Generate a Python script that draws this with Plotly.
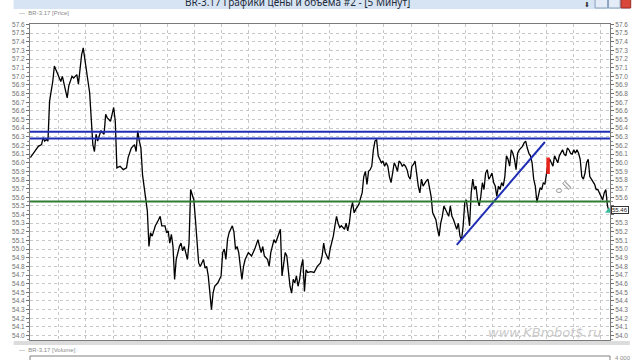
import plotly.graph_objects as go

# ---- data: 5-minute close prices (bar index, close) ----
bar = [0, 3, 5, 7, 8, 9, 10, 11, 12, 13, 14, 15, 17, 19, 20, 22, 23, 24, 26, 27, 29, 30, 31, 32, 33, 34, 35, 36, 37, 38, 39, 40, 41, 42, 44, 46, 47, 48, 50, 51, 52, 53, 54, 56, 58, 60, 61, 63, 65, 66, 67, 68, 69, 70, 71, 72, 73, 74,
       75, 76, 78, 80, 81, 82, 84, 85, 86, 87, 88, 89, 90, 91, 92, 93, 94, 95, 96, 97, 98, 99, 100, 101, 102, 103, 104, 105, 106, 107, 108, 109, 110, 111, 112, 113, 114, 115, 117, 118, 119, 120, 121, 122, 123, 124, 125, 126, 127, 128, 129, 130, 131, 132, 133, 134, 136, 138, 140, 142, 143, 144, 145, 146, 148, 149, 150, 151, 152, 153, 154, 155, 156, 157, 158, 159, 160, 161, 162, 163, 164, 165, 166, 167, 168, 169, 170, 171, 172, 173, 175, 177, 179, 181, 182,
       183, 184, 185, 186, 187, 188, 189, 190, 191, 192, 193, 194, 196, 197, 198, 199, 200, 201, 202, 203, 204, 205, 206, 207, 208, 209, 210, 211, 212, 213, 214, 215, 216, 217, 218, 219, 220, 221, 222, 223, 224, 225, 226, 227, 228, 229, 230, 231, 232, 233, 234, 235, 236, 237, 238, 239, 240, 241, 242, 243, 244, 245, 246, 247, 248, 249, 250, 251, 252, 253, 254, 255, 256, 257, 258, 259, 260, 261, 262, 263, 264, 265, 266, 267, 268, 269, 270, 271,
       272, 273, 274, 275, 276, 277, 278, 279, 280, 281, 282, 283, 284, 285, 286, 287, 288, 289, 290, 291, 292, 293, 294, 295, 296, 297, 298, 299, 300, 301, 302, 303, 304, 305, 306, 307, 308, 309, 310, 311, 312, 313, 314, 315, 316, 317, 318, 319, 320, 321, 322, 323, 324, 325, 326, 327, 328, 329, 330, 331, 332, 333, 334, 335, 336, 337, 338, 339, 340, 341, 342, 343, 344, 345, 346, 347, 348, 349, 350, 351, 352, 353, 354, 355, 356, 357, 358, 359, 360, 361]

close = [56.06, 56.13, 56.19, 56.21, 56.29, 56.25, 56.27, 56.25, 56.71, 56.83, 56.94, 57.12, 57.02, 56.94, 57.00, 56.85, 56.75, 56.89, 57.00, 56.98, 57.02, 56.91, 57.10, 57.25, 57.33, 57.18, 57.08, 56.94, 56.81, 56.44, 56.21, 56.13, 56.33, 56.25, 56.37, 56.33, 56.56, 56.52, 56.48, 56.56, 56.64, 56.48, 55.94, 55.96, 55.92, 55.94, 56.06, 56.17, 56.21, 56.13, 56.37, 56.25, 56.17, 55.86, 55.71, 55.59, 55.44, 55.03,
         55.19, 55.15, 55.27, 55.34, 55.38, 55.27, 55.27, 55.19, 55.21, 55.07, 55.17, 55.03, 54.65, 54.88, 54.96, 55.03, 55.07, 54.98, 55.03, 54.94, 54.88, 55.07, 55.69, 55.63, 55.57, 55.34, 55.03, 54.84, 54.80, 54.84, 54.88, 54.78, 54.80, 54.69, 54.46, 54.30, 54.49, 54.57, 54.61, 54.65, 54.69, 54.96, 55.00, 54.88, 55.11, 55.19, 55.23, 55.27, 55.20, 55.00, 55.03, 54.96, 54.80, 54.65, 54.80, 54.88, 54.96, 54.92, 55.00, 55.11, 55.03, 54.96, 55.03, 54.92, 54.88, 54.80, 54.96, 55.05, 55.11, 55.07, 55.13, 55.19, 55.23, 54.69, 54.84, 54.96, 54.92, 54.76, 54.57, 54.49, 54.65, 54.61, 54.69, 54.57, 54.65, 54.80, 54.88, 54.51, 54.76, 54.73, 54.74, 54.73, 54.80, 54.84, 54.92,
         55.07, 54.96, 54.92, 54.88, 55.00, 55.07, 55.15, 55.27, 55.38, 55.30, 55.25, 55.27, 55.23, 55.30, 55.21, 55.30, 55.46, 55.54, 55.42, 55.46, 55.50, 55.52, 55.59, 55.65, 55.84, 55.90, 55.75, 55.90, 55.92, 55.96, 56.15, 56.25, 56.27, 56.08, 56.04, 56.00, 56.02, 55.96, 56.00, 55.96, 55.84, 55.77, 55.88, 56.00, 55.96, 55.90, 56.02, 56.00, 55.96, 55.98, 55.96, 55.92, 55.84, 55.81, 55.96, 55.98, 56.02, 55.84, 55.73, 55.65, 55.81, 55.73, 55.77, 55.79, 55.81, 55.71, 55.61, 55.42, 55.38, 55.34, 55.23, 55.15, 55.30, 55.38, 55.50, 55.46, 55.42, 55.38, 55.50, 55.38, 55.34, 55.27, 55.23, 55.30, 55.15, 55.11, 55.27, 55.54,
         55.57, 55.42, 55.27, 55.65, 55.81, 55.69, 55.73, 55.57, 55.50, 55.61, 55.77, 55.69, 55.88, 55.92, 55.81, 55.84, 55.88, 55.77, 55.73, 55.61, 55.73, 55.69, 55.77, 55.73, 55.84, 56.08, 56.04, 55.96, 56.15, 56.11, 56.04, 55.92, 56.11, 56.15, 56.17, 56.19, 56.23, 56.25, 56.17, 56.11, 56.08, 56.00, 55.81, 55.73, 55.54, 55.65, 55.71, 55.69, 55.77, 55.75, 55.88, 56.00, 56.04, 56.00, 55.96, 56.08, 56.04, 56.00, 56.08, 56.11, 56.15, 56.10, 56.08, 56.17, 56.15, 56.11, 56.10, 56.15, 56.11, 56.15, 56.11, 56.04, 55.84, 55.81, 55.88, 56.00, 56.04, 55.84, 55.81, 55.77, 55.75, 55.69, 55.69, 55.65, 55.61, 55.57, 55.65, 55.69, 55.50, 55.44]

resistance_levels = [56.36, 56.28]
support_level = 55.55
trend_bars = [266, 321]
trend_prices = [55.05, 56.24]
sell_bar = [323, 323]
sell_prices = [56.06, 55.87]
last_price_label = "55.46"
price_ticks = [round(54.0 + 0.1 * i, 1) for i in range(37)]
tick_text = [f"{v:.1f}" for v in price_ticks]
# right-axis labels hidden behind the last-price box
right_tick_text = ["" if t in ("55.4", "55.5") else t for t in tick_text]

# ---- geometry helpers (pixels -> paper) ----
W, H = 640, 360
L, R, T, B = 17, 20.5, 24, 20
PW, PH = W - L - R, H - T - B
def px(x):
    return (x - L) / PW
def py(y):
    return (H - B - y) / PH

YR = [53.948, 57.606]
XR = [-0.2, 361.6]

fig = go.Figure()

fig.add_trace(go.Scatter(x=bar, y=close, mode="lines",
                         line=dict(color="#000000", width=1.3), hoverinfo="skip"))
fig.add_trace(go.Scatter(x=trend_bars, y=trend_prices, mode="lines",
                         line=dict(color="#1f2db5", width=2), hoverinfo="skip"))
fig.add_trace(go.Scatter(x=sell_bar, y=sell_prices, mode="lines",
                         line=dict(color="#e8231b", width=3.5), hoverinfo="skip"))
fig.add_trace(go.Scatter(x=[bar[-1]], y=[close[-1]], mode="markers",
                         marker=dict(symbol="triangle-up", size=7, color="#3dbb9c"),
                         hoverinfo="skip"))
# invisible trace to drive right axis
fig.add_trace(go.Scatter(x=[bar[0]], y=[close[0]], yaxis="y2", mode="markers",
                         marker=dict(opacity=0), hoverinfo="skip"))

shapes = []
for lvl in resistance_levels:
    shapes.append(dict(type="line", xref="paper", yref="y", x0=0, x1=1, y0=lvl, y1=lvl,
                       line=dict(color="#1f2db5", width=2)))
shapes.append(dict(type="line", xref="paper", yref="y", x0=0, x1=1, y0=support_level, y1=support_level,
                   line=dict(color="#2f7d32", width=2)))
# cursor-like gray icons
shapes.append(dict(type="circle", xref="x", yref="y", x0=328.2, x1=331.4, y0=55.655, y1=55.70,
                   line=dict(color="#9a9a9a", width=1)))
shapes.append(dict(type="line", xref="x", yref="y", x0=332.6, x1=336.6, y0=55.775, y1=55.70,
                   line=dict(color="#9a9a9a", width=4)))
shapes.append(dict(type="line", xref="x", yref="y", x0=332.8, x1=336.4, y0=55.772, y1=55.703,
                   line=dict(color="#f4f4f4", width=2)))
# window title bar
shapes.append(dict(type="rect", xref="paper", yref="paper", x0=px(0), x1=px(640), y0=py(9), y1=py(-2),
                   fillcolor="#d6e4f3", line=dict(width=0), layer="below"))
# window buttons
shapes.append(dict(type="rect", xref="paper", yref="paper", x0=px(604), x1=px(617), y0=py(8), y1=py(-2),
                   fillcolor="#e4edf7", line=dict(color="#8aa0bd", width=1)))
shapes.append(dict(type="rect", xref="paper", yref="paper", x0=px(618), x1=px(630), y0=py(8), y1=py(-2),
                   fillcolor="#e4edf7", line=dict(color="#8aa0bd", width=1)))
shapes.append(dict(type="rect", xref="paper", yref="paper", x0=px(631), x1=px(641), y0=py(8), y1=py(-2),
                   fillcolor="#d9473a", line=dict(color="#9b2b22", width=1)))
# panel separator and volume panel top
shapes.append(dict(type="rect", xref="paper", yref="paper", x0=px(0), x1=px(640), y0=py(345), y1=py(341),
                   fillcolor="#dcdcdc", line=dict(width=0)))
shapes.append(dict(type="line", xref="paper", yref="paper", x0=0, x1=1, y0=py(356), y1=py(356),
                   line=dict(color="#808080", width=1)))
shapes.append(dict(type="line", xref="paper", yref="paper", x0=0, x1=0, y0=py(356), y1=py(362),
                   line=dict(color="#808080", width=1)))
shapes.append(dict(type="line", xref="paper", yref="paper", x0=1, x1=1, y0=py(356), y1=py(362),
                   line=dict(color="#808080", width=1)))

annotations = [
    dict(xref="paper", yref="paper", x=px(295), y=py(1.5), text="BR-3.17 Графики цены и объема #2 - [5 Минут]",
         showarrow=False, font=dict(family="Noto Sans", size=10, color="#1e2a3a"), xanchor="center", yanchor="middle"),
    dict(xref="paper", yref="paper", x=px(596), y=py(4.5), text="⬇", showarrow=False,
         font=dict(size=7, color="#333"), xanchor="center", yanchor="middle"),
    dict(xref="paper", yref="paper", x=px(3), y=py(13), text="—  BR-3.17 [Price]", showarrow=False,
         font=dict(family="Liberation Sans", size=6, color="#8a8a8a"), xanchor="left", yanchor="middle"),
    dict(xref="paper", yref="paper", x=px(3), y=py(349.5), text="—  BR-3.17 [Volume]", showarrow=False,
         font=dict(family="Liberation Sans", size=6, color="#8a8a8a"), xanchor="left", yanchor="middle"),
    dict(xref="paper", yref="paper", x=px(623), y=py(357.5), text="4 000", showarrow=False,
         font=dict(family="Liberation Sans", size=6, color="#8a8a8a"), xanchor="left", yanchor="middle"),
    dict(xref="paper", yref="paper", x=px(551), y=py(332), text="www.KBrobot$.ru", showarrow=False,
         font=dict(family="DejaVu Sans", size=13, color="#c9c9c9", style="italic"),
         xanchor="center", yanchor="middle"),
    dict(xref="paper", yref="y", x=px(621), y=55.455, text=last_price_label, showarrow=False,
         font=dict(family="Liberation Sans", size=6, color="#222"), xanchor="left", yanchor="middle",
         bgcolor="#ffffff", bordercolor="#333", borderwidth=1, borderpad=0),
]

grid_x = [0.9 + 16.9 * k for k in range(1, 22)]
axis_font = dict(family="Liberation Sans", size=6.5, color="#707070")

fig.update_layout(
    width=W, height=H,
    margin=dict(l=L, r=R, t=T, b=B, pad=0),
    paper_bgcolor="#ffffff", plot_bgcolor="#ffffff",
    showlegend=False,
    shapes=shapes, annotations=annotations,
    xaxis=dict(range=XR, tickvals=grid_x, showticklabels=False, ticks="",
               showgrid=True, gridcolor="#c8c8c8", griddash="dot", gridwidth=1,
               showline=True, linecolor="#7a7a7a", linewidth=1, mirror=True, zeroline=False,
               fixedrange=True),
    yaxis=dict(range=YR, tickvals=price_ticks, ticktext=tick_text, side="left",
               ticks="outside", ticklen=3, tickcolor="#707070", tickfont=axis_font,
               minor=dict(ticks="outside", ticklen=2, dtick=0.05, tickcolor="#909090", showgrid=False),
               showgrid=True, gridcolor="#c8c8c8", griddash="dot", gridwidth=1,
               showline=True, linecolor="#7a7a7a", linewidth=1, zeroline=False),
    yaxis2=dict(range=YR, tickvals=price_ticks, ticktext=right_tick_text, side="right", overlaying="y",
                ticks="outside", ticklen=3, tickcolor="#707070", tickfont=axis_font,
                minor=dict(ticks="outside", ticklen=2, dtick=0.05, tickcolor="#909090", showgrid=False),
                showgrid=False, showline=True, linecolor="#7a7a7a", linewidth=1, zeroline=False),
)

fig.write_html("out.html")
